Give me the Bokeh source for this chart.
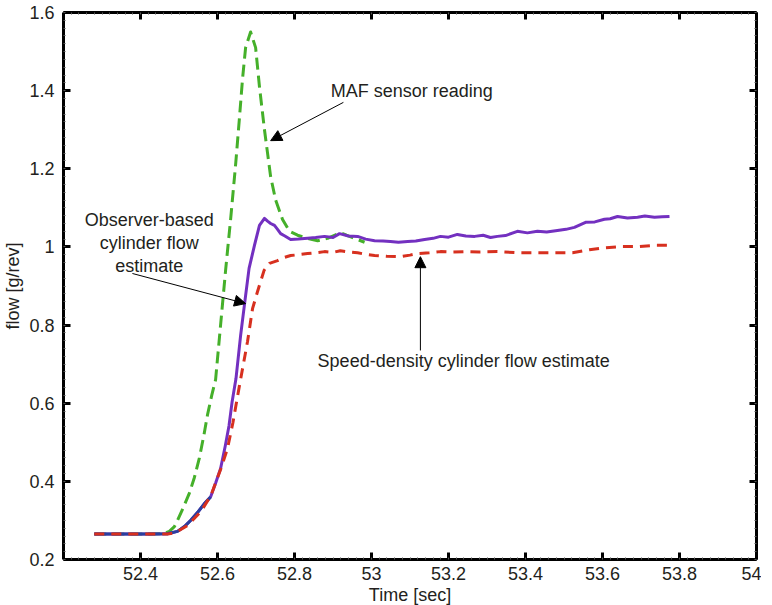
import numpy as np
from bokeh.plotting import figure
from bokeh.models import (LinearAxis, FixedTicker, CustomJSTickFormatter, Range1d,
                          Arrow, NormalHead, Label)
from bokeh.embed import file_html
from bokeh.resources import INLINE

# ---- data ----
maf_x = [52.28, 52.35, 52.42, 52.46, 52.475, 52.488, 52.496, 52.51, 52.527, 52.54, 52.553,
         52.565, 52.574, 52.585, 52.595, 52.608, 52.621, 52.634, 52.647, 52.657, 52.665,
         52.673, 52.686, 52.699, 52.709, 52.722, 52.730, 52.738, 52.751, 52.769, 52.787,
         52.808, 52.834, 52.860, 52.886, 52.905, 52.919, 52.935, 52.956, 52.982]
maf_y = [0.265, 0.265, 0.265, 0.266, 0.272, 0.284, 0.300, 0.33, 0.37, 0.41, 0.46,
         0.52, 0.57, 0.62, 0.66, 0.80, 0.94, 1.07, 1.21, 1.33, 1.43,
         1.51, 1.55, 1.51, 1.41, 1.30, 1.24, 1.18, 1.12, 1.07, 1.04,
         1.03, 1.022, 1.016, 1.022, 1.03, 1.037, 1.03, 1.022, 1.012]

obs_x = [52.28, 52.35, 52.42, 52.47, 52.496, 52.515, 52.530, 52.548, 52.566, 52.582,
         52.595, 52.608, 52.620, 52.630, 52.638, 52.648, 52.660, 52.671, 52.682, 52.696,
         52.709, 52.722, 52.730, 52.738, 52.748, 52.756, 52.764, 52.775, 52.790, 52.81,
         52.834, 52.855, 52.878, 52.90, 52.917, 52.94, 52.964, 52.985, 53.008, 53.03,
         53.049, 53.07, 53.094, 53.115, 53.138, 53.16, 53.179, 53.20, 53.223, 53.245,
         53.268, 53.29, 53.309, 53.327, 53.348, 53.379, 53.405, 53.431, 53.455, 53.483,
         53.505, 53.527, 53.556, 53.58, 53.605, 53.62, 53.639, 53.665, 53.691, 53.71,
         53.735, 53.755, 53.774]
obs_y = [0.265, 0.265, 0.265, 0.266, 0.272, 0.285, 0.300, 0.32, 0.343, 0.36,
         0.395, 0.433, 0.49, 0.543, 0.604, 0.663, 0.773, 0.86, 0.945, 1.004,
         1.055, 1.073, 1.066, 1.060, 1.055, 1.045, 1.034, 1.028, 1.019, 1.020,
         1.022, 1.024, 1.027, 1.024, 1.034, 1.028, 1.027, 1.020, 1.016, 1.015,
         1.014, 1.012, 1.014, 1.015, 1.019, 1.022, 1.027, 1.025, 1.032, 1.028,
         1.027, 1.030, 1.024, 1.027, 1.029, 1.040, 1.036, 1.040, 1.038, 1.042,
         1.045, 1.050, 1.063, 1.064, 1.071, 1.072, 1.078, 1.074, 1.076, 1.079,
         1.076, 1.077, 1.078]

base_x = [52.28, 52.35, 52.42, 52.47, 52.496, 52.515, 52.530, 52.548, 52.566, 52.582]
base_y = [0.265, 0.265, 0.265, 0.266, 0.272, 0.285, 0.300, 0.32, 0.343, 0.36]

sd_x = [52.28, 52.35, 52.42, 52.47, 52.49, 52.522, 52.557, 52.583, 52.609, 52.626,
        52.640, 52.657, 52.678, 52.691, 52.704, 52.721, 52.735, 52.756, 52.770, 52.790,
        52.81, 52.834, 52.855, 52.878, 52.90, 52.919, 52.94, 52.964, 52.985, 53.008,
        53.04, 53.075, 53.10, 53.119, 53.15, 53.179, 53.21, 53.242, 53.28, 53.327,
        53.379, 53.431, 53.478, 53.522, 53.566, 53.608, 53.652, 53.696, 53.735, 53.774]
sd_y = [0.265, 0.265, 0.265, 0.265, 0.268, 0.287, 0.323, 0.364, 0.433, 0.484,
        0.55, 0.645, 0.758, 0.842, 0.886, 0.940, 0.958, 0.965, 0.972, 0.978,
        0.980, 0.983, 0.985, 0.988, 0.986, 0.990, 0.987, 0.985, 0.981, 0.978,
        0.976, 0.975, 0.979, 0.983, 0.985, 0.988, 0.987, 0.988, 0.987, 0.988,
        0.985, 0.985, 0.985, 0.985, 0.993, 0.998, 1.001, 1.001, 1.004, 1.004]

x_ticks = [52.4, 52.6, 52.8, 53.0, 53.2, 53.4, 53.6, 53.8, 54.0]
y_ticks = [0.2, 0.4, 0.6, 0.8, 1.0, 1.2, 1.4, 1.6]

FONT = "Liberation Sans"
TXT = "#231f20"

p = figure(frame_width=693, frame_height=547, output_backend="svg", toolbar_location=None,
           x_range=Range1d(52.2, 54.0), y_range=Range1d(0.2, 1.6),
           x_axis_type=None, y_axis_type=None,
           min_border_left=58, min_border_top=12, min_border_right=5, min_border_bottom=40)
p.outline_line_color = None
p.grid.visible = False
p.background_fill_color = "white"

fmt = CustomJSTickFormatter(code="return Number(tick.toFixed(2)).toString();")
blank = CustomJSTickFormatter(code="return '';")
x_minor = list(np.round(np.arange(52.2, 54.0001, 0.02), 3))
y_minor = list(np.round(np.arange(0.2, 1.6001, 0.02), 3))


def make_axis(ticks, minor, labels, loc, standoff):
    ax = LinearAxis(ticker=FixedTicker(ticks=ticks, minor_ticks=minor),
                    formatter=fmt if labels else blank)
    ax.axis_line_width = 3
    ax.axis_line_color = "black"
    ax.major_tick_in = 7
    ax.major_tick_out = 0
    ax.major_tick_line_width = 3
    ax.minor_tick_in = 2
    ax.minor_tick_out = 0
    ax.minor_tick_line_width = 1
    ax.minor_tick_line_color = "#555555"
    ax.major_label_text_font = FONT
    ax.major_label_text_font_size = "18px" if labels else "0px"
    ax.major_label_text_color = TXT
    ax.major_label_standoff = standoff
    p.add_layout(ax, loc)
    return ax


bx = make_axis(x_ticks, x_minor, True, "below", 7)
bx.axis_label = "Time [sec]"
bx.axis_label_text_font = FONT
bx.axis_label_text_font_size = "18px"
bx.axis_label_text_font_style = "normal"
bx.axis_label_text_color = TXT
bx.axis_label_standoff = 2

ly = make_axis(y_ticks, y_minor, True, "left", 9)
ly.axis_label = "flow [g/rev]"
ly.axis_label_text_font = FONT
ly.axis_label_text_font_size = "18px"
ly.axis_label_text_font_style = "normal"
ly.axis_label_text_color = TXT
ly.axis_label_standoff = 3

make_axis(x_ticks, x_minor, False, "above", 0)
make_axis(y_ticks, y_minor, False, "right", 0)

# ---- lines ----
p.line(maf_x, maf_y, line_color="#45b02a", line_width=3, line_dash="12 6", line_join="round")
p.line(obs_x, obs_y, line_color="#7330c0", line_width=3, line_join="round")
p.line(base_x, base_y, line_color="#2b3f9e", line_width=3, line_join="round")
p.line(sd_x, sd_y, line_color="#d7301f", line_width=3, line_dash="10 7", line_join="round")

# ---- annotations ----
def arrow(x0, y0, x1, y1):
    p.add_layout(Arrow(x_start=x0, y_start=y0, x_end=x1, y_end=y1, line_width=1,
                       line_color="black",
                       end=NormalHead(size=11, fill_color="black", line_color="black")))

arrow(52.927, 1.370, 52.738, 1.272)
arrow(52.379, 0.932, 52.673, 0.855)
arrow(53.127, 0.735, 53.127, 0.975)

def label(x, y, t, align="left"):
    p.add_layout(Label(x=x, y=y, text=t, text_font=FONT, text_font_size="18px",
                       text_color=TXT, text_align=align, text_baseline="middle"))

label(52.894, 1.398, "MAF sensor reading")
label(52.423, 1.068, "Observer-based", "center")
label(52.423, 1.009, "cylinder flow", "center")
label(52.423, 0.952, "estimate", "center")
label(52.860, 0.707, "Speed-density cylinder flow estimate")

open("out.html", "w").write(file_html(p, INLINE))
